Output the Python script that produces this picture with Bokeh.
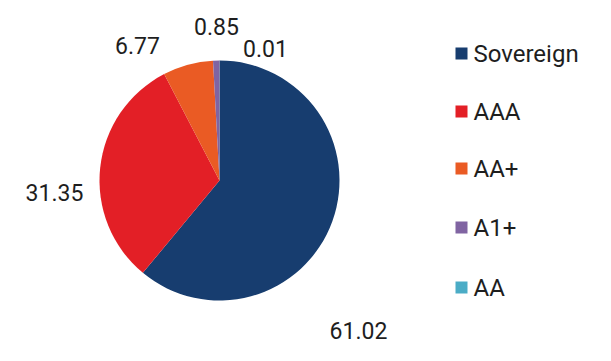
import math
from bokeh.plotting import figure
from bokeh.models import Range1d, ColumnDataSource
from bokeh.core.properties import value
from bokeh.embed import file_html
from bokeh.resources import INLINE

categories = ["Sovereign", "AAA", "AA+", "A1+", "AA"]
values = [61.02, 31.35, 6.77, 0.85, 0.01]
colors = ["#173d6f", "#e31f26", "#ea5b24", "#8064a2", "#4bacc6"]
labels = ["61.02", "31.35", "6.77", "0.85", "0.01"]

W, H = 595, 345
# label anchor positions (picture pixels)
label_px = [(358, 330), (54, 192), (137, 45), (216, 26), (265, 48)]

def X(px):
    return px

def Y(py):
    return H - py

p = figure(width=W, height=H, output_backend="svg", toolbar_location=None,
           x_range=Range1d(0, W), y_range=Range1d(0, H), min_border=0)
p.axis.visible = False
p.grid.visible = False
p.outline_line_color = None
p.background_fill_color = "white"

cx, cy, r = X(219), Y(180), 120
total = sum(values)
starts, ends = [], []
a = math.pi / 2
for v in values:
    e = a - v / total * 2 * math.pi
    starts.append(e)
    ends.append(a)
    a = e

src = ColumnDataSource(dict(start=starts, end=ends, color=colors))
p.wedge(x=cx, y=cy, radius=r, start_angle="start", end_angle="end",
        fill_color="color", line_color=None, source=src)

lsrc = ColumnDataSource(dict(x=[X(a) for a, b in label_px], y=[Y(b) for a, b in label_px], t=labels))
p.text(x="x", y="y", text="t", source=lsrc, text_font=value("Roboto"),
       text_font_size="23px", text_color="#1e1e1e", text_align="center", text_baseline="middle")

leg_y = [53, 111, 168, 227, 287]
gsrc = ColumnDataSource(dict(x=[X(461)] * 5, y=[Y(v) for v in leg_y], c=colors,
                             tx=[X(473)] * 5, t=categories))
p.rect(x="x", y="y", width=12, height=12, fill_color="c", line_color=None, source=gsrc)
p.text(x="tx", y="y", text="t", source=gsrc, text_font=value("Roboto"),
       text_font_size="24px", text_color="#1e1e1e", text_align="left", text_baseline="middle")

open("out.html", "w").write(file_html(p, INLINE))
